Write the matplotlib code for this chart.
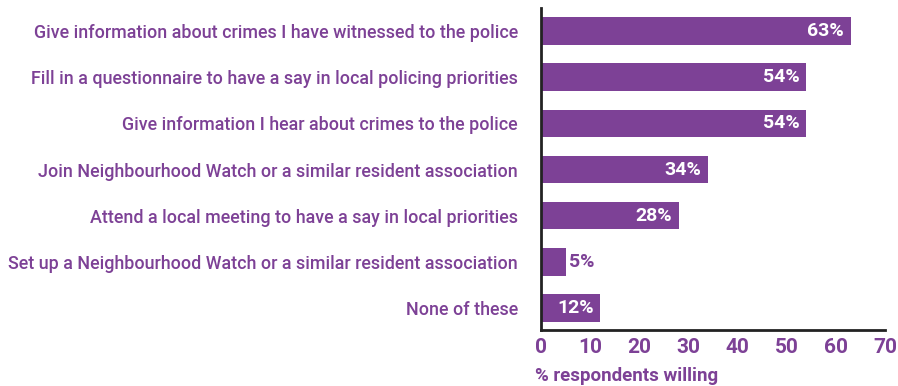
import matplotlib
matplotlib.use("Agg")
import matplotlib.pyplot as plt

categories = [
    "Give information about crimes I have witnessed to the police",
    "Fill in a questionnaire to have a say in local policing priorities",
    "Give information I hear about crimes to the police",
    "Join Neighbourhood Watch or a similar resident association",
    "Attend a local meeting to have a say in local priorities",
    "Set up a Neighbourhood Watch or a similar resident association",
    "None of these",
]
values = [63, 54, 54, 34, 28, 5, 12]
xticks = [0, 10, 20, 30, 40, 50, 60, 70]
xlabel = "% respondents willing"

purple = "#7D4196"
plt.rcParams["font.family"] = ["Roboto", "DejaVu Sans"]

fig = plt.figure(figsize=(8.98, 3.86), dpi=100)
ax = fig.add_axes([0.6024, 0.145, 0.3831, 0.834])

ypos = list(range(len(categories)))
ax.barh(ypos, values, height=0.6, color=purple)
ax.set_ylim(6.48, -0.5)
ax.set_xlim(0, 70)
ax.set_xticks(xticks)
ax.set_xticklabels([str(t) for t in xticks], color=purple, fontsize=15, fontweight="bold")
ax.set_yticks(ypos)
ax.set_yticklabels(categories, color=purple, fontsize=12.9, fontweight="medium")
ax.tick_params(axis="y", length=0, pad=16.5)
ax.tick_params(axis="x", length=0, pad=6)

for s in ("top", "right"):
    ax.spines[s].set_visible(False)
for s in ("left", "bottom"):
    ax.spines[s].set_color("#222222")
    ax.spines[s].set_linewidth(2)

for y, v in zip(ypos, values):
    if v >= 10:
        ax.text(v - 1.3, y, f"{v}%", color="white", fontsize=14, fontweight="bold",
                ha="right", va="center")
    else:
        ax.text(v + 0.8, y, f"{v}%", color=purple, fontsize=14, fontweight="bold",
                ha="left", va="center")

fig.text(535 / 898, 1 - 385 / 386, xlabel, color=purple, fontsize=13.5, fontweight="bold",
         ha="left", va="bottom")

fig.savefig("out.png", dpi=100)
